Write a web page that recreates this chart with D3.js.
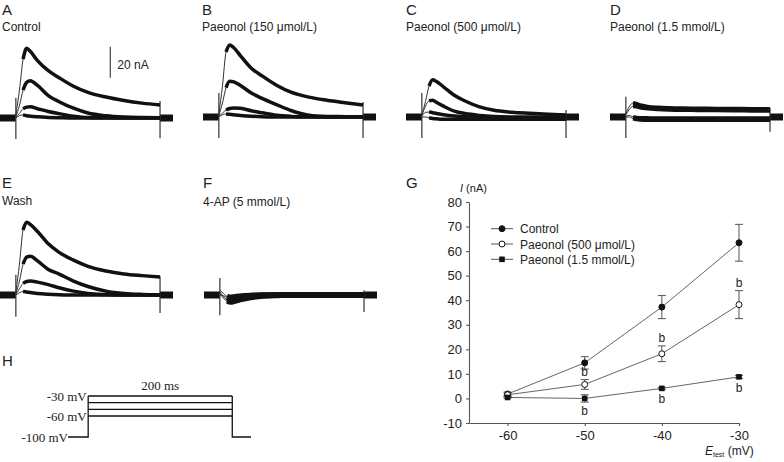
<!DOCTYPE html>
<html><head><meta charset="utf-8">
<script src="https://cdn.jsdelivr.net/npm/d3@7"></script>
<style>
body{margin:0;background:#fff}
svg{display:block}
text{font-family:"Liberation Sans",Arial,sans-serif;fill:#222}
text.serif{font-family:"Liberation Serif","Times New Roman",serif}
</style>
</head><body>
<svg id="c" width="784" height="462"></svg>
<script>
// ---------------- DATA ----------------
// Current traces (nA above holding baseline), sampled at these times (ms after step onset)
const traceTimes = [0, 5, 10, 15, 20, 30, 45, 60, 80, 100, 125, 150, 175, 200];

const panelLetters = ["A", "B", "C", "D", "E", "F"];
const panelTitles = ["Control", "Paeonol (150 μmol/L)", "Paeonol (500 μmol/L)", "Paeonol (1.5 mmol/L)", "Wash", "4-AP (5 mmol/L)"];

const tracesA = [
  [2, 18, 38, 45, 43, 37, 30.5, 26, 20.5, 16.5, 13.5, 11.3, 9.6, 8.4],
  [1, 8, 18, 23, 24, 21, 14.5, 10.5, 6.3, 3.2, 1.4, 0.6, 0.3, 0.2],
  [0.5, 3, 6, 7, 7.2, 6, 4.2, 2.8, 1.2, 0.3, 0.1, 0, 0, 0],
  [0, 1.5, 2, 1.5, 1.2, 0.8, 0.4, 0.2, 0, 0, 0, 0, 0, 0]
];
const tracesB = [
  [2, 20, 42, 46.5, 45, 39.5, 31.5, 26.5, 20.5, 16, 12.8, 10.8, 9.2, 7.7],
  [1, 9, 19, 23, 22.8, 20.3, 15.5, 12, 8, 4.2, 1.2, 0.4, 0.2, 0],
  [0.5, 2.5, 4.5, 5.5, 5.8, 5.6, 4, 2.7, 1.1, 0.4, 0.1, 0, 0, 0],
  [0, 1.5, 2, 1.8, 1.4, 1, 0.5, 0.2, 0, 0, 0, 0, 0, 0]
];
const tracesC = [
  [1, 10, 20, 24, 23, 19.5, 14, 10.3, 6.5, 4.3, 3.1, 2.4, 1.8, 1.3],
  [1, 7, 10.5, 10.8, 9.5, 7, 3.8, 2.2, 1, 0.3, 0, 0, 0, 0],
  [0.5, 3, 3.2, 2.8, 2.3, 1.5, 0.6, 0.1, -0.4, -0.5, -0.5, -0.5, -0.5, -0.5],
  [0, 0, -0.5, -1, -1.2, -1.5, -1.5, -1.5, -1.5, -1.5, -1.5, -1.5, -1.5, -1.5]
];
const tracesD = [
  [2, 7, 9, 8.5, 7.6, 6.7, 6.1, 5.8, 5.6, 5.5, 5.4, 5.3, 5.2, 5.2],
  [1.5, 5, 7, 6.8, 6.1, 5.5, 5, 4.7, 4.5, 4.4, 4.3, 4.2, 4.1, 4],
  [0.5, 1, 0, -0.5, -0.6, -0.7, -0.8, -0.8, -0.8, -0.8, -0.8, -0.8, -0.8, -0.8],
  [0, 0, -1, -1.5, -1.8, -2, -2, -2, -2, -2, -2, -2, -2, -2]
];
const tracesE = [
  [2, 20, 42, 47, 45.5, 41, 33, 27.5, 22.5, 18.5, 15.5, 13.6, 12.5, 11.6],
  [1, 9, 20, 24.5, 25, 22, 16.5, 13.5, 9, 5.5, 2.5, 1, 0.4, 0.2],
  [0.5, 4, 7.5, 8.7, 9, 8.3, 6.7, 4.7, 2.5, 1, 0.3, 0, 0, 0],
  [0, 1.5, 2.2, 2, 1.6, 1, 0.5, 0.2, 0, 0, 0, 0, 0, 0]
];
const tracesF = [
  [3, 1, -1, -1.5, -1.2, -0.6, -0.2, 0, 0, 0, 0, 0, 0, 0],
  [2, -1, -3, -3.5, -3, -2, -1, -0.4, -0.1, 0, 0, 0, 0, 0],
  [1, -2, -4, -4.5, -4, -2.8, -1.5, -0.7, -0.3, 0, 0, 0, 0, 0],
  [0, -0.5, -1.5, -2, -2, -1.2, -0.5, -0.2, 0, 0, 0, 0, 0, 0]
];
// capacitive artifacts [min, max] in nA at step onset and offset
const onsetArtifacts = [[-13.5, 13], [-13.5, 15.5], [-13.5, 15.5], [-13.5, 13], [-14, 13], [-13, 11]];
const offsetArtifacts = [[-13, 11], [-13.5, 9.7], [-13.5, 4.5], [-9.5, 5.8], [-11.6, 12], [-11, 3]];
const scaleBarNA = 20;

// Panel G: I–V relationship
const testVoltages = [-60, -50, -40, -30];
const yTicks = [-10, 0, 10, 20, 30, 40, 50, 60, 70, 80];
const seriesNames = ["Control", "Paeonol (500 μmol/L)", "Paeonol (1.5 mmol/L)"];
const controlMean = [1.8, 14.5, 37.2, 63.4];
const controlErr = [0.8, 2.5, 4.7, 7.5];
const p500Mean = [1.5, 5.7, 18.2, 38.2];
const p500Err = [0.6, 2.0, 3.2, 5.7];
const p1500Mean = [0.4, 0.0, 4.1, 8.8];
const p1500Err = [0.3, 1.5, 0.4, 0.6];
const p500Sig = ["", "b", "b", "b"];
const p1500Sig = ["", "b", "b", "b"];

// Panel H: voltage protocol
const holdingMV = -100;
const stepLevelsMV = [-30, -40, -50, -60];
const stepLabelsMV = [-30, -60, -100];
const stepDurationMS = 200;

// ---------------- DRAWING ----------------
const svg = d3.select("#c");
const traceSets = [tracesA, tracesB, tracesC, tracesD, tracesE, tracesF];
const layout = [
  {x0: 0, base: 118, lx: 2, ly: 15, ty: 31},
  {x0: 203, base: 117, lx: 202, ly: 15, ty: 31},
  {x0: 406, base: 117, lx: 406, ly: 15, ty: 31},
  {x0: 610, base: 117, lx: 610, ly: 15, ty: 31},
  {x0: 0, base: 295, lx: 2, ly: 188, ty: 205},
  {x0: 204, base: 295, lx: 203, ly: 188, ty: 206}
];
const bandW = [3.5, 3.5, 3.5, 4, 3.5, 5.5];

layout.forEach((L, pi) => {
  const g = svg.append("g");
  const x = d3.scaleLinear().domain([-22, 218]).range([L.x0, L.x0 + 173]);
  const y = d3.scaleLinear().domain([0, 20]).range([L.base, L.base - 31]);
  g.append("text").attr("x", L.lx).attr("y", L.ly).attr("font-size", 15).text(panelLetters[pi]);
  g.append("text").attr("x", L.lx).attr("y", L.ty).attr("font-size", 12).text(panelTitles[pi]);

  const line = d3.line().x(d => x(d[0])).y(d => y(d[1])).curve(d3.curveMonotoneX);
  [[[-22, 0], [0, 0]], [[stepDurationMS, 0], [218, 0]]].forEach(seg => {
    g.append("path").attr("d", d3.line().x(d => x(d[0])).y(d => y(d[1]))(seg))
      .attr("stroke", "#111").attr("stroke-width", 7).attr("fill", "none");
  });
  [[0, onsetArtifacts[pi]], [stepDurationMS, offsetArtifacts[pi]]].forEach(([t, r]) => {
    g.append("line").attr("x1", x(t)).attr("x2", x(t)).attr("y1", y(r[0])).attr("y2", y(r[1]))
      .attr("stroke", "#333").attr("stroke-width", 1.2);
  });
  traceSets[pi].forEach(vals => {
    const pts = traceTimes.map((t, i) => [t, vals[i]]);
    g.append("path").attr("d", line(pts)).attr("fill", "none").attr("stroke", "#333").attr("stroke-width", 1);
    g.append("path").attr("d", line(pts.slice(2))).attr("fill", "none").attr("stroke", "#111")
      .attr("stroke-width", bandW[pi]).attr("stroke-linejoin", "round");
  });
  if (pi === 0) {
    const tb = 131;
    g.append("line").attr("x1", x(tb)).attr("x2", x(tb)).attr("y1", y(26)).attr("y2", y(26 + scaleBarNA))
      .attr("stroke", "#444").attr("stroke-width", 1.2);
    g.append("text").attr("x", x(tb) + 7).attr("y", y(26 + scaleBarNA / 2) + 7).attr("font-size", 12)
      .text(scaleBarNA + " nA");
  }
});

// ---- Panel G ----
const gx = d3.scaleLinear().domain([-65, -30]).range([469, 739]);
const gy = d3.scaleLinear().domain([-10, 80]).range([423, 202]);
svg.append("text").attr("x", 406).attr("y", 188).attr("font-size", 15).text("G");

const yAx = svg.append("g").attr("transform", "translate(469,0)")
  .call(d3.axisLeft(gy).tickValues(yTicks).tickSize(3).tickSizeOuter(0).tickPadding(4).tickFormat(d => String(d)));
const xAx = svg.append("g").attr("transform", "translate(0,423)")
  .call(d3.axisBottom(gx).tickValues(testVoltages).tickSize(3).tickSizeOuter(0).tickPadding(5).tickFormat(d => String(d)));
[yAx, xAx].forEach(a => {
  a.attr("font-family", null).attr("font-size", 13);
  a.selectAll("path,line").attr("stroke", "#555").attr("stroke-width", 1.1);
  a.selectAll("text").attr("fill", "#333");
});
const yl = svg.append("text").attr("x", 460).attr("y", 192).attr("font-size", 11);
yl.append("tspan").attr("font-style", "italic").text("I");
yl.append("tspan").text(" (nA)");
const xl = svg.append("text").attr("x", 705).attr("y", 455).attr("font-size", 12);
xl.append("tspan").attr("font-style", "italic").text("E");
xl.append("tspan").attr("font-size", 7).attr("dy", 2).text("test");
xl.append("tspan").attr("dy", -2).text(" (mV)");

const series = [
  {mean: controlMean, err: controlErr, mk: "fcircle"},
  {mean: p500Mean, err: p500Err, mk: "ocircle"},
  {mean: p1500Mean, err: p1500Err, mk: "square"}
];
function marker(sel, type, cx, cy) {
  if (type === "square") {
    sel.append("rect").attr("x", cx - 2.8).attr("y", cy - 2.8).attr("width", 5.6).attr("height", 5.6).attr("fill", "#111");
  } else {
    sel.append("circle").attr("cx", cx).attr("cy", cy).attr("r", 3)
      .attr("fill", type === "fcircle" ? "#111" : "#fff").attr("stroke", "#111").attr("stroke-width", 1);
  }
}
const gl = d3.line().x(d => gx(d[0])).y(d => gy(d[1]));
series.forEach(s => {
  const pts = testVoltages.map((v, i) => [v, s.mean[i]]);
  svg.append("path").attr("d", gl(pts)).attr("fill", "none").attr("stroke", "#666").attr("stroke-width", 1);
});
series.forEach(s => {
  testVoltages.forEach((v, i) => {
    const cx = gx(v), t = gy(s.mean[i] + s.err[i]), b = gy(s.mean[i] - s.err[i]);
    const eg = svg.append("g").attr("stroke", "#555").attr("stroke-width", 1);
    eg.append("line").attr("x1", cx).attr("x2", cx).attr("y1", t).attr("y2", b);
    eg.append("line").attr("x1", cx - 4).attr("x2", cx + 4).attr("y1", t).attr("y2", t);
    eg.append("line").attr("x1", cx - 4).attr("x2", cx + 4).attr("y1", b).attr("y2", b);
  });
});
series.forEach(s => {
  testVoltages.forEach((v, i) => marker(svg, s.mk, gx(v), gy(s.mean[i])));
});
testVoltages.forEach((v, i) => {
  if (p500Sig[i]) svg.append("text").attr("x", gx(v)).attr("y", gy(p500Mean[i] + p500Err[i]) - 8).attr("dy", "0.35em")
    .attr("text-anchor", "middle").attr("font-size", 12).text(p500Sig[i]);
  if (p1500Sig[i]) svg.append("text").attr("x", gx(v)).attr("y", gy(p1500Mean[i] - p1500Err[i]) + 9).attr("dy", "0.35em")
    .attr("text-anchor", "middle").attr("font-size", 12).text(p1500Sig[i]);
});
series.forEach((s, i) => {
  const ly = 228.7 + i * 15.3;
  svg.append("line").attr("x1", 491).attr("x2", 513).attr("y1", ly).attr("y2", ly).attr("stroke", "#555").attr("stroke-width", 1);
  marker(svg, s.mk, 502, ly);
  svg.append("text").attr("x", 520).attr("y", ly + 4.5).attr("font-size", 12).text(seriesNames[i]);
});

// ---- Panel H ----
svg.append("text").attr("x", 2).attr("y", 366).attr("font-size", 15).text("H");
const ht = d3.scaleLinear().domain([-28, 226]).range([68, 251]);
const hv = d3.scaleLinear().domain([-100, -60, -30]).range([437, 416, 396]);
const hg = svg.append("g").attr("stroke", "#111").attr("stroke-width", 1.3).attr("fill", "none");
const hl = d3.line().x(d => ht(d[0])).y(d => hv(d[1]));
hg.append("path").attr("d", hl([[-28, holdingMV], [0, holdingMV], [0, d3.max(stepLevelsMV)]]));
hg.append("path").attr("d", hl([[stepDurationMS, d3.max(stepLevelsMV)], [stepDurationMS, holdingMV], [226, holdingMV]]));
stepLevelsMV.forEach(v => hg.append("path").attr("d", hl([[0, v], [stepDurationMS, v]])));
stepLabelsMV.forEach(v => {
  svg.append("text").attr("class", "serif").attr("x", v === holdingMV ? ht(-28) : ht(-2)).attr("y", hv(v) + 4.5)
    .attr("text-anchor", "end").attr("font-size", 13).text(v + " mV");
});
svg.append("text").attr("class", "serif").attr("x", ht(stepDurationMS / 2)).attr("y", hv(-30) - 6).attr("text-anchor", "middle")
  .attr("font-size", 13).text(stepDurationMS + " ms");
</script>
</body></html>
